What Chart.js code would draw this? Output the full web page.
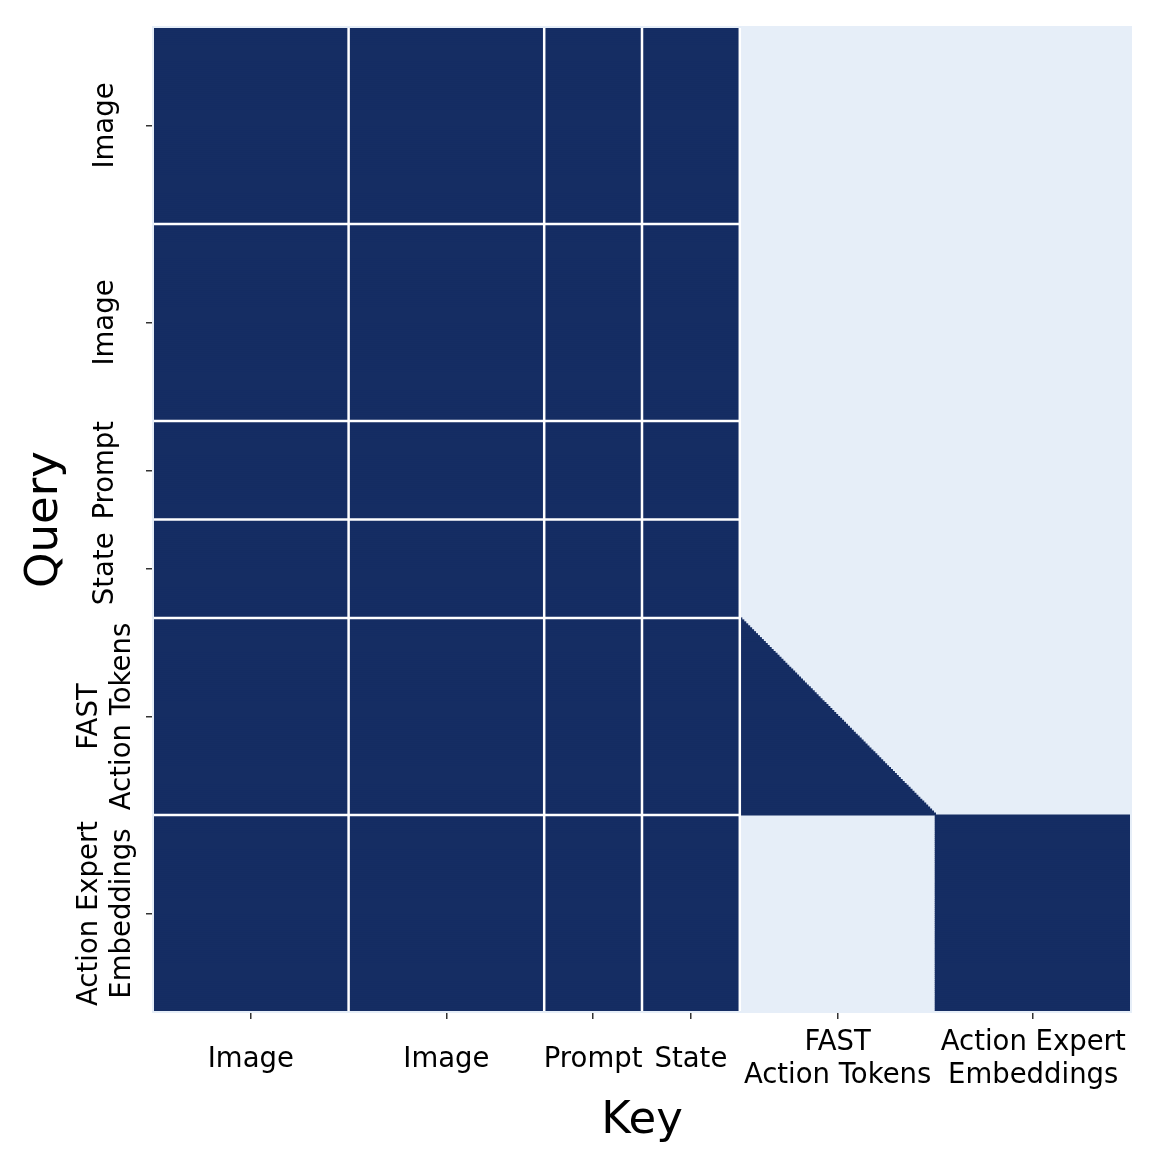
<!DOCTYPE html>
<html>
<head>
<meta charset="utf-8">
<script src="https://cdn.jsdelivr.net/npm/chart.js@4.4.1/dist/chart.umd.min.js"></script>
<style>
  html, body { margin: 0; padding: 0; background: #ffffff; }
  #wrap { width: 1158px; height: 1162px; position: relative; }
</style>
</head>
<body>
<div id="wrap"><canvas id="c" width="1158" height="1162"></canvas></div>
<script>
// ---- data ----
const segLabels = ['Image', 'Image', 'Prompt', 'State', ['FAST', 'Action Tokens'], ['Action Expert', 'Embeddings']];
const segTokens = [100, 100, 50, 50, 100, 100];
// query segment (row) x key segment (column): 1 = attends all, 'c' = causal, 0 = masked
const blockMask = [
  [1, 1, 1, 1, 0, 0],
  [1, 1, 1, 1, 0, 0],
  [1, 1, 1, 1, 0, 0],
  [1, 1, 1, 1, 0, 0],
  [1, 1, 1, 1, 'c', 0],
  [1, 1, 1, 1, 0, 1]
];
// white separator lines drawn between these blocks
const vSeparators = [0, 1, 2, 3];   // key segment boundaries (end of segment index)
const hSeparators = [0, 1, 2, 3, 4]; // query segment boundaries

const DARK = '#152d63';
const LIGHT = '#e6eef8';

// ---- derived tables ----
const segStart = [];
let acc = 0;
segTokens.forEach(n => { segStart.push(acc); acc += n; });
const total = acc;
const segEnd = segStart.map((s, i) => s + segTokens[i]);
const segCenter = segStart.map((s, i) => s + segTokens[i] / 2);

const bgData = [];
for (let r = 0; r < total; r++) bgData.push({ x: [0, total], y: r + 0.5 });

const datasets = [{
  data: bgData, backgroundColor: LIGHT, grouped: false, order: 10,
  barPercentage: 1, categoryPercentage: 1, borderWidth: 0, inflateAmount: 0.6
}];
for (let k = 0; k < segTokens.length; k++) {
  const d = [];
  for (let q = 0; q < segTokens.length; q++) {
    for (let i = 0; i < segTokens[q]; i++) {
      const r = segStart[q] + i;
      const m = blockMask[q][k];
      if (m === 1) d.push({ x: [segStart[k], segEnd[k]], y: r + 0.5 });
      else if (m === 'c') d.push({ x: [segStart[k], segStart[k] + i + 1], y: r + 0.5 });
    }
  }
  datasets.push({
    data: d, backgroundColor: DARK, grouped: false, order: 1,
    barPercentage: 1, categoryPercentage: 1, borderWidth: 0, inflateAmount: 0.6
  });
}

const separatorPlugin = {
  id: 'separators',
  afterDatasetsDraw(chart) {
    const { ctx, chartArea: a, scales: { x, y } } = chart;
    ctx.save();
    ctx.strokeStyle = '#ffffff';
    ctx.lineWidth = 2.5;
    vSeparators.forEach(k => {
      const px = x.getPixelForValue(segEnd[k]);
      ctx.beginPath();
      ctx.moveTo(px, y.getPixelForValue(0));
      ctx.lineTo(px, y.getPixelForValue(total));
      ctx.stroke();
    });
    const xr = x.getPixelForValue(segEnd[vSeparators[vSeparators.length - 1]]);
    hSeparators.forEach(q => {
      const py = y.getPixelForValue(segEnd[q]);
      ctx.beginPath();
      ctx.moveTo(x.getPixelForValue(0), py);
      ctx.lineTo(xr, py);
      ctx.stroke();
    });
    ctx.strokeStyle = LIGHT;
    ctx.lineWidth = 2;
    ctx.strokeRect(a.left, a.top, a.right - a.left, a.bottom - a.top);
    ctx.restore();
  }
};

const FONT = 'DejaVu Sans';
const tickFont = { family: FONT, size: 27.5, lineHeight: 1.2 };

new Chart(document.getElementById('c'), {
  type: 'bar',
  data: { datasets },
  options: {
    indexAxis: 'y',
    responsive: false,
    animation: false,
    events: [],
    layout: { padding: { left: 0, top: 27, right: 27, bottom: 0 } },
    plugins: { legend: { display: false }, tooltip: { enabled: false } },
    scales: {
      x: {
        type: 'linear', min: 0, max: total, offset: false,
        afterBuildTicks: s => { s.ticks = segCenter.map(v => ({ value: v })); },
        afterFit: s => { s.height = 150; },
        ticks: {
          autoSkip: false, maxRotation: 0, minRotation: 0, color: '#000',
          font: tickFont, padding: 24, crossAlign: 'center',
          callback: (v, i) => segLabels[i]
        },
        grid: { display: true, drawOnChartArea: false, drawTicks: true, tickLength: 7, color: '#333', lineWidth: 1.5, offset: false },
        border: { display: false },
        title: { display: true, text: 'Key', color: '#000', font: { family: FONT, size: 45, lineHeight: 1.2 }, padding: { top: 0, bottom: 14 } }
      },
      y: {
        type: 'linear', min: 0, max: total, reverse: true, offset: false,
        afterBuildTicks: s => { s.ticks = segCenter.map(v => ({ value: v })); },
        afterFit: s => { s.width = 153; },
        ticks: {
          autoSkip: false, minRotation: 90, maxRotation: 90, color: '#000',
          font: tickFont, padding: -54, crossAlign: 'center',
          callback: (v, i) => segLabels[i]
        },
        grid: { display: true, drawOnChartArea: false, drawTicks: true, tickLength: 7, color: '#333', lineWidth: 1.5, offset: false },
        border: { display: false },
        title: { display: true, text: 'Query', color: '#000', font: { family: FONT, size: 45, lineHeight: 1.2 }, padding: { top: 18, bottom: 0 } }
      }
    }
  },
  plugins: [separatorPlugin]
});
</script>
</body>
</html>
